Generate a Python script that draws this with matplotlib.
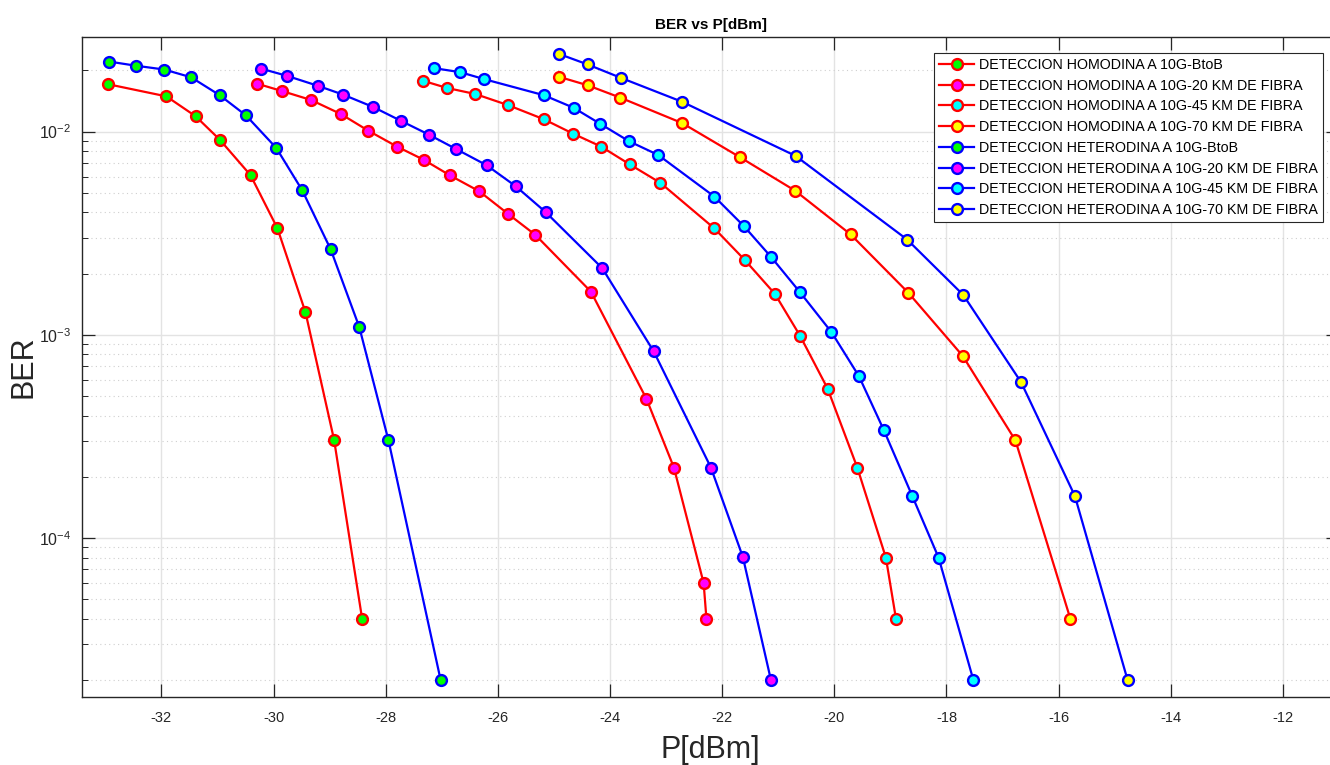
import matplotlib
matplotlib.use("Agg")
import matplotlib.pyplot as plt
import matplotlib.ticker as mticker

plt.rcParams['font.family'] = ['Liberation Sans', 'DejaVu Sans']
plt.rcParams['axes.unicode_minus'] = False
plt.rcParams['mathtext.fontset'] = 'custom'
plt.rcParams['mathtext.rm'] = 'Liberation Sans'
plt.rcParams['mathtext.it'] = 'Liberation Sans:italic'
plt.rcParams['mathtext.bf'] = 'Liberation Sans:bold'
plt.rcParams['mathtext.default'] = 'regular'

# === DATA ===
# Homodyne detection
hom_btob_p = [-32.95, -31.91, -31.39, -30.96, -30.41, -29.93, -29.43, -28.92, -28.42]
hom_btob_ber = [0.0171, 0.0149, 0.0119, 0.00913, 0.0061, 0.00334, 0.00129, 0.000304, 4.0e-5]

hom_20_p = [-30.29, -29.84, -29.33, -28.80, -28.31, -27.80, -27.32, -26.86, -26.33,
            -25.81, -25.33, -24.34, -23.35, -22.86, -22.33, -22.28]
hom_20_ber = [0.0172, 0.0158, 0.0143, 0.0122, 0.0101, 0.00844, 0.00726, 0.0061, 0.00508,
              0.00392, 0.0031, 0.00163, 0.000484, 0.000222, 6.0e-5, 4.0e-5]

hom_45_p = [-27.34, -26.91, -26.40, -25.82, -25.18, -24.66, -24.16, -23.65, -23.10,
            -22.14, -21.60, -21.06, -20.61, -20.12, -19.59, -19.08, -18.90]
hom_45_ber = [0.0178, 0.0164, 0.0153, 0.0135, 0.0115, 0.00977, 0.00844, 0.0069, 0.00559,
              0.00334, 0.00234, 0.00159, 0.000988, 0.000544, 0.000222, 8.0e-5, 4.0e-5]

hom_70_p = [-24.91, -24.40, -23.82, -22.71, -21.69, -20.70, -19.71, -18.68, -17.71,
            -16.77, -15.79]
hom_70_ber = [0.0186, 0.0169, 0.0147, 0.0110, 0.0075, 0.00512, 0.00312, 0.00161,
              0.000787, 0.000302, 4.0e-5]

# Heterodyne detection
het_btob_p = [-32.93, -32.46, -31.95, -31.47, -30.96, -30.49, -29.95, -29.49, -28.98,
              -28.47, -27.95, -27.02]
het_btob_ber = [0.0221, 0.0211, 0.0202, 0.0185, 0.0151, 0.0120, 0.0083, 0.00515, 0.00263,
                0.00109, 0.000302, 2.0e-5]

het_20_p = [-30.22, -29.76, -29.21, -28.76, -28.22, -27.73, -27.23, -26.75, -26.20,
            -25.68, -25.15, -24.14, -23.22, -22.20, -21.63, -21.13]
het_20_ber = [0.0204, 0.0188, 0.0168, 0.0152, 0.0132, 0.0113, 0.00966, 0.00822, 0.00683,
              0.00538, 0.00402, 0.00213, 0.000828, 0.000222, 8.05e-5, 2.0e-5]

het_45_p = [-27.13, -26.67, -26.24, -25.18, -24.65, -24.17, -23.66, -23.14, -22.14,
            -21.61, -21.13, -20.62, -20.05, -19.56, -19.12, -18.61, -18.14, -17.52]
het_45_ber = [0.0205, 0.0196, 0.0181, 0.0151, 0.0131, 0.0109, 0.00896, 0.00767, 0.00479,
              0.00342, 0.00242, 0.00163, 0.00103, 0.000625, 0.000341, 0.000161, 8.0e-5, 2.0e-5]

het_70_p = [-24.91, -24.40, -23.81, -22.71, -20.69, -18.70, -17.70, -16.67, -15.71, -14.77]
het_70_ber = [0.0241, 0.0214, 0.0184, 0.0140, 0.00759, 0.00294, 0.00157, 0.000585,
              0.000161, 2.0e-5]

labels = [
    'DETECCION HOMODINA A 10G-BtoB',
    'DETECCION HOMODINA A 10G-20 KM DE FIBRA',
    'DETECCION HOMODINA A 10G-45 KM DE FIBRA',
    'DETECCION HOMODINA A 10G-70 KM DE FIBRA',
    'DETECCION HETERODINA A 10G-BtoB',
    'DETECCION HETERODINA A 10G-20 KM DE FIBRA',
    'DETECCION HETERODINA A 10G-45 KM DE FIBRA',
    'DETECCION HETERODINA A 10G-70 KM DE FIBRA',
]

series = [
    (hom_btob_p, hom_btob_ber, '#ff0000', '#00ff00'),
    (hom_20_p, hom_20_ber, '#ff0000', '#ff00ff'),
    (hom_45_p, hom_45_ber, '#ff0000', '#00ffff'),
    (hom_70_p, hom_70_ber, '#ff0000', '#ffff00'),
    (het_btob_p, het_btob_ber, '#0000ff', '#00ff00'),
    (het_20_p, het_20_ber, '#0000ff', '#ff00ff'),
    (het_45_p, het_45_ber, '#0000ff', '#00ffff'),
    (het_70_p, het_70_ber, '#0000ff', '#ffff00'),
]

# === FIGURE ===
fig = plt.figure(figsize=(13.3, 7.65), dpi=100)
# axes run past the right edge, as in the cropped reference
ax = fig.add_axes([82.3 / 1330, 68 / 765, 1256.7 / 1330, 660 / 765])

for (p, ber, lc, fc), lab in zip(series, labels):
    ax.plot(p, ber, '-o', color=lc, linewidth=1.6, markersize=7.8,
            markerfacecolor=fc, markeredgecolor=lc, markeredgewidth=1.7, label=lab)

ax.set_yscale('log')
ax.set_xlim(-33.41, -11.0)
ax.set_ylim(1.65e-5, 2.92e-2)
ax.set_xticks(range(-32, -11, 2))

ax.yaxis.set_major_locator(mticker.LogLocator(base=10, numticks=10))
ax.yaxis.set_minor_locator(mticker.LogLocator(base=10, subs=range(2, 10), numticks=20))
ax.yaxis.set_minor_formatter(mticker.NullFormatter())

ax.grid(True, which='major', color='#e3e3e3', linewidth=1.0, linestyle='-')
ax.grid(True, which='minor', axis='y', color='#cfcfcf', linewidth=0.8, linestyle=(0, (1, 3)))
ax.set_axisbelow(True)

ax.tick_params(which='major', direction='in', length=9.5, width=0.9, colors='#262626',
               labelsize=10.5, top=True, right=True)
ax.tick_params(axis='x', which='major', pad=10)
ax.tick_params(axis='y', which='major', pad=8, labelsize=11.5)
ax.tick_params(which='minor', direction='in', length=4.3, width=0.7, colors='#262626',
               top=True, right=True)
for s in ax.spines.values():
    s.set_color('#262626')
    s.set_linewidth(1.0)

ax.set_title('BER vs P[dBm]', fontsize=11, fontweight='bold', color='#000000', pad=6)
ax.set_xlabel('P[dBm]', fontsize=22, color='#262626', labelpad=7)
ax.set_ylabel('BER', fontsize=22, color='#262626')
ax.yaxis.set_label_coords(-0.0345, 0.5)

leg = ax.legend(loc='upper right', bbox_to_anchor=(1323 / 1330, 1 - 53 / 765),
                bbox_transform=fig.transFigure, fontsize=10.3, frameon=True,
                fancybox=False, edgecolor='#262626', framealpha=1.0,
                handlelength=2.45, labelspacing=0.47, borderpad=0.35, handletextpad=0.35,
                borderaxespad=0.0)
leg.get_frame().set_linewidth(0.8)
for t in leg.get_texts():
    t.set_color('#000000')

fig.savefig('out.png', dpi=100, facecolor='white')
